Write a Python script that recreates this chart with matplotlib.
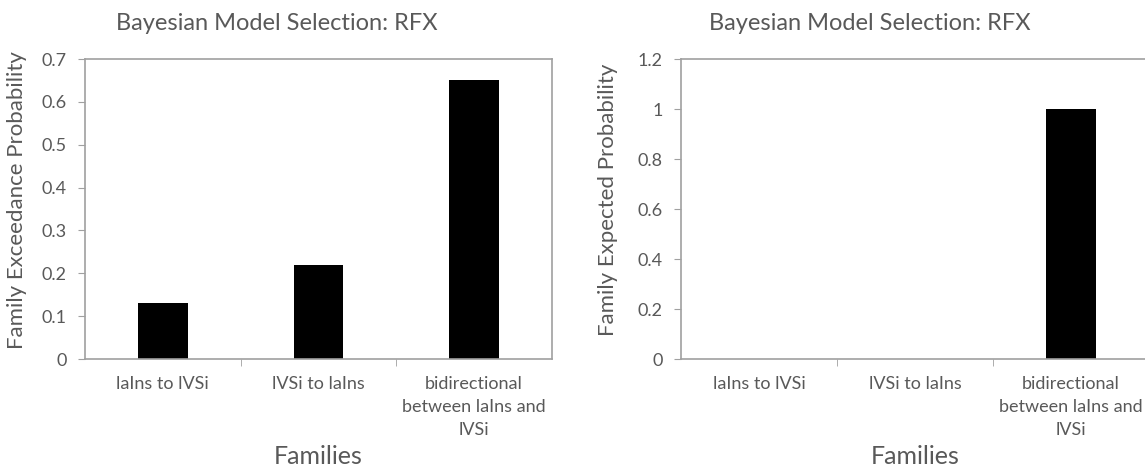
import matplotlib
matplotlib.use('Agg')
import matplotlib.pyplot as plt
import matplotlib.ticker as tick

families = ['laIns to lVSi', 'lVSi to laIns', 'bidirectional\nbetween laIns and\nlVSi']
exceedance = [0.13, 0.22, 0.65]
expected = [0.0, 0.0, 1.0]

left_ticks = [0, 0.1, 0.2, 0.3, 0.4, 0.5, 0.6, 0.7]
right_ticks = [0, 0.2, 0.4, 0.6, 0.8, 1, 1.2]

TEXT = '#595959'
SPINE = '#a0a0a0'
W, H = 1145, 475

plt.rcParams['font.family'] = ['Lato', 'DejaVu Sans']


@tick.FuncFormatter
def general_formatter(x, pos):
    return f'{x:g}'


def panel(fig, rect, values, yticks, ylabel, title_x, ylabel_x):
    x0, y0, x1, y1 = rect
    ax = fig.add_axes([x0 / W, 1 - y1 / H, (x1 - x0) / W, (y1 - y0) / H])
    ax.bar(range(len(values)), values, width=0.32, color='black')
    ax.set_xlim(-0.5, len(values) - 0.5)
    ax.set_ylim(yticks[0], yticks[-1])
    ax.set_yticks(yticks)
    ax.yaxis.set_major_formatter(general_formatter)
    ax.set_xticks(range(len(values)))
    ax.set_xticklabels(families, fontsize=13, color=TEXT, linespacing=1.55)
    ax.set_xticks([i + 0.5 for i in range(len(values) - 1)], minor=True)
    ax.tick_params(axis='x', which='major', length=0, pad=12)
    ax.tick_params(axis='x', which='minor', length=5, color=SPINE, direction='out')
    ax.tick_params(axis='y', length=5, color=SPINE, labelsize=13,
                   labelcolor=TEXT, pad=8)
    for s in ax.spines.values():
        s.set_color(SPINE)
        s.set_linewidth(1.2)
    fig.text(title_x / W, 1 - 23 / H, 'Bayesian Model Selection: RFX',
             ha='center', va='center', fontsize=17, color=TEXT)
    fig.text(ylabel_x / W, 1 - 200 / H, ylabel, rotation=90,
             ha='center', va='center', fontsize=16, color=TEXT)
    fig.text((x0 + x1) / 2 / W, 1 - 456 / H, 'Families',
             ha='center', va='center', fontsize=18, color=TEXT)
    return ax


fig = plt.figure(figsize=(W / 100, H / 100), dpi=100)
panel(fig, (85, 59, 552, 359), exceedance, left_ticks,
      'Family Exceedance Probability', 277, 17)
panel(fig, (681, 59, 1149, 359), expected, right_ticks,
      'Family Expected Probability', 870, 608)

fig.savefig('out.png', dpi=100)
